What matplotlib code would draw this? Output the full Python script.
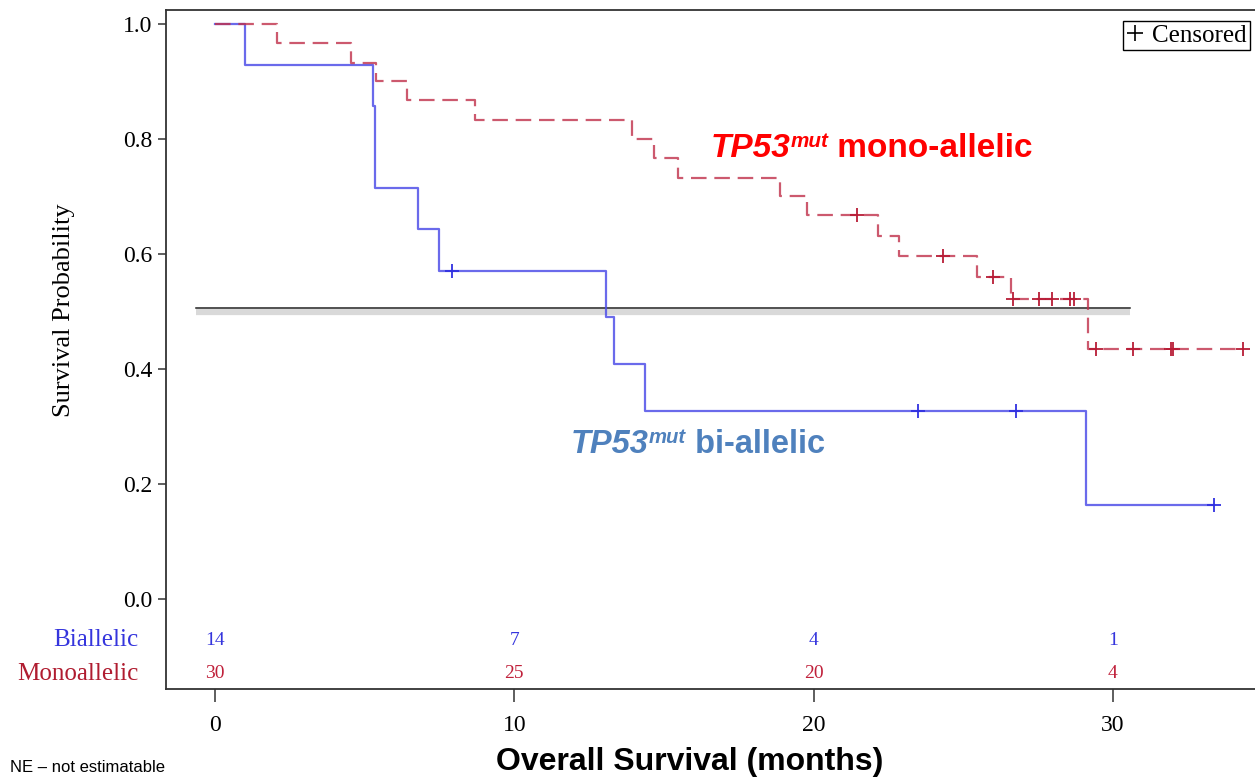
import matplotlib
matplotlib.use("Agg")
import matplotlib.pyplot as plt
from matplotlib.lines import Line2D

# Kaplan-Meier steps (time in months, survival after the step)
bi_times = [0, 1.0, 5.28, 5.35, 6.78, 7.48, 13.06, 13.33, 14.37, 29.1]
bi_surv = [1.0, 0.929, 0.857, 0.714, 0.643, 0.571, 0.490, 0.408, 0.327, 0.163]
bi_end = 33.38
bi_cens_t = [7.92, 23.49, 26.76, 33.38]
bi_cens_s = [0.571, 0.327, 0.327, 0.163]

mono_times = [0, 2.07, 4.54, 5.38, 6.41, 8.69, 13.93, 14.67, 15.47, 18.88,
              19.78, 22.15, 22.85, 25.46, 26.6, 29.17]
mono_surv = [1.0, 0.967, 0.933, 0.900, 0.867, 0.833, 0.800, 0.767, 0.733, 0.700,
             0.667, 0.631, 0.597, 0.560, 0.522, 0.435]
mono_end = 34.35
mono_cens_t = [21.45, 24.32, 25.99, 26.67, 27.53, 27.97, 28.57, 28.7,
               29.43, 30.67, 31.94, 32.01, 34.35]
mono_cens_s = [0.667, 0.597, 0.560, 0.522, 0.522, 0.522, 0.522, 0.522,
               0.435, 0.435, 0.435, 0.435, 0.435]

median_level = 0.506
median_span = [-0.63, 30.57]

risk_times = [0, 10, 20, 30]
risk_bi = [14, 7, 4, 1]
risk_mono = [30, 25, 20, 4]

blue = "#5050e8"
red = "#c0304a"
serif = "Liberation Serif"

fig = plt.figure(figsize=(12.55, 7.77), dpi=100)
ax = fig.add_axes([166 / 1255, 1 - 689 / 777, 1 - 166 / 1255, (689 - 10) / 777])

# median reference line with its grey shadow
ax.plot(median_span, [median_level - 0.007] * 2, color="#d9d9d9", lw=4.5,
        solid_capstyle="butt", zorder=1)
ax.plot(median_span, [median_level] * 2, color="#222222", lw=1.1, zorder=2)

ax.step(bi_times + [bi_end], bi_surv + [bi_surv[-1]], where="post",
        color=blue, lw=1.6, alpha=0.85, zorder=3)
ax.plot(bi_cens_t, bi_cens_s, ls="", marker="+", ms=10, mew=1.3,
        color="#3030e0", zorder=4)

ax.step(mono_times + [mono_end], mono_surv + [mono_surv[-1]], where="post",
        color=red, lw=1.6, alpha=0.8, ls=(0, (7, 3.5)), zorder=3)
ax.plot(mono_cens_t, mono_cens_s, ls="", marker="+", ms=10, mew=1.3,
        color="#b81c36", zorder=4)

ax.set_xlim(-1.637, 34.75)
ax.set_ylim(-0.1565, 1.0243)
ax.set_xticks([0, 10, 20, 30])
ax.set_yticks([0, 0.2, 0.4, 0.6, 0.8, 1.0])
ax.set_yticklabels(["0.0", "0.2", "0.4", "0.6", "0.8", "1.0"])
ax.tick_params(axis="x", length=9.5, width=1.1, pad=9, labelsize=17, color="#333333")
ax.tick_params(axis="y", length=6, width=1.1, pad=4, labelsize=17, color="#333333")
for lab in ax.get_xticklabels() + ax.get_yticklabels():
    lab.set_fontfamily(serif)
for side in ["left", "bottom", "top"]:
    ax.spines[side].set_linewidth(1.3)
    ax.spines[side].set_color("#333333")
ax.spines["right"].set_visible(False)

ax.set_ylabel("Survival Probability", fontfamily=serif, fontsize=19)
ax.yaxis.set_label_coords(-0.084, 0.558)
ax.set_xlabel("Overall Survival (months)", fontfamily="Liberation Sans",
              fontsize=23, fontweight="bold")
ax.xaxis.set_label_coords(0.481, -0.086)

# numbers at risk
row_bi = -0.0713
row_mono = -0.1304
for t, n in zip(risk_times, risk_bi):
    ax.text(t, row_bi, str(n), color="#3535dd", fontfamily=serif, fontsize=14,
            ha="center", va="center")
for t, n in zip(risk_times, risk_mono):
    ax.text(t, row_mono, str(n), color="#c0203a", fontfamily=serif, fontsize=14,
            ha="center", va="center")
ax.annotate("Biallelic", xy=(0, row_bi), xycoords=("axes fraction", "data"),
            xytext=(-20, 0), textcoords="offset points", ha="right", va="center",
            color="#3535dd", fontfamily=serif, fontsize=18, annotation_clip=False)
ax.annotate("Monoallelic", xy=(0, row_mono), xycoords=("axes fraction", "data"),
            xytext=(-20, 0), textcoords="offset points", ha="right", va="center",
            color="#b01c30", fontfamily=serif, fontsize=18, annotation_clip=False)

# censored key
ax.legend([Line2D([], [], ls="", marker="+", color="k", ms=11, mew=1.2)], ["Censored"],
          loc="upper right", bbox_to_anchor=(1250 / 1255, 1 - 21 / 777),
          bbox_transform=fig.transFigure, fancybox=False, framealpha=1,
          edgecolor="black", borderpad=0.12, handlelength=0.7, handletextpad=0.35,
          borderaxespad=0, prop={"family": serif, "size": 18})


def group_label(x, y, rest, color, size):
    t1 = ax.text(x, y, "TP53", color=color, fontsize=size, fontweight="bold",
                 fontstyle="italic", fontfamily="Liberation Sans", va="bottom")
    t2 = ax.annotate("mut", xy=(1, 0.42), xycoords=t1, va="bottom", color=color,
                     fontsize=size * 0.62, fontweight="bold", fontstyle="italic",
                     fontfamily="Liberation Sans")
    ax.annotate(rest, xy=(1, 0), xycoords=(t2, t1), va="bottom", color=color,
                fontsize=size, fontweight="bold", fontfamily="Liberation Sans")


group_label(16.55, 0.756, " mono-allelic", "#ff0000", 24)
group_label(11.9, 0.241, " bi-allelic", "#4f81bd", 23.5)

fig.text(10 / 1255, 1 - 768 / 777, "NE \u2013 not estimatable", fontsize=12,
         fontfamily="Liberation Sans", va="center", ha="left")

fig.savefig("out.png", dpi=100)
